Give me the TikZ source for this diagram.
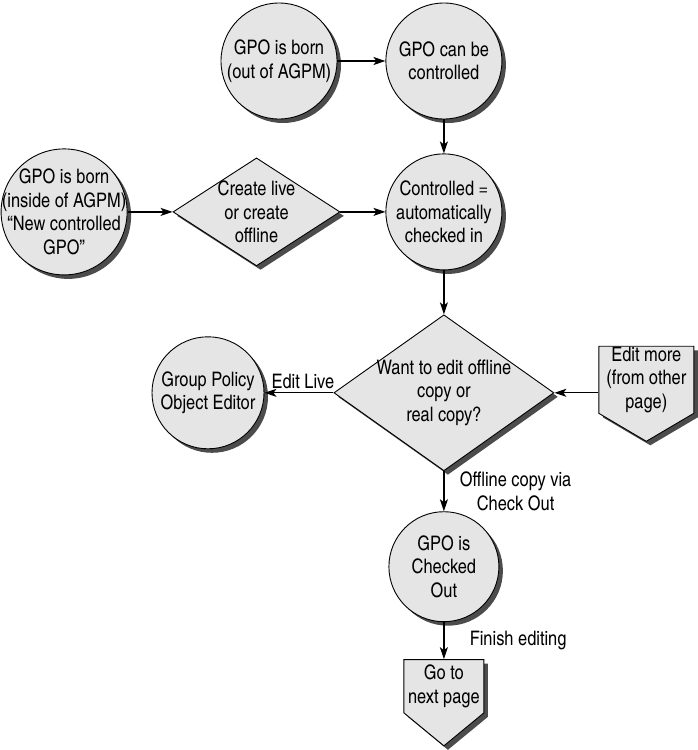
\documentclass[tikz,border=0pt]{standalone}
\usepackage{fontspec}
\setmainfont{texgyreheroscn}[Extension=.otf,UprightFont=*-regular,BoldFont=*-bold]
\usetikzlibrary{arrows.meta,positioning,shapes.geometric,shapes.symbols,shadows}

\begin{document}
\begin{tikzpicture}[x=1pt,y=-1pt,>={Stealth[length=12pt,width=8pt,inset=3pt]},
 font=\fontsize{20}{23.5}\selectfont,
 shade/.style={draw,fill=black!10,line width=0.9pt,
  drop shadow={shadow xshift=4pt,shadow yshift=-4pt,fill=black!70,opacity=1}},
 blob/.style={shade,circle,minimum size=#1},
 pick/.style 2 args={shade,diamond,minimum width=#1,minimum height=#2},
 page/.style n args={3}{shade,signal,signal to=south,signal pointer angle=#3,
  minimum width=#1,minimum height=#2},
 every label/.style={align=center,inner sep=0pt},
 link/.style={->,line width=1.2pt}]
\useasboundingbox (0,0) rectangle (697,750);
\node[blob=116pt,label={center:GPO is born\\(out of AGPM)}] (bornout) at (279,61) {};
\node[blob=116pt,right=48pt of bornout,label={center:GPO can be\\controlled}] (canctrl) {};
\node[blob=116pt,below=34pt of canctrl,label={center:Controlled =\\automatically\\checked in}] (checkin) {};
\node[pick={167pt}{108pt},left=45pt of checkin,label={center:Create live\\or create\\offline}] (create) {};
\node[blob=126pt,left=45pt of create,label={center:GPO is born\\(inside of AGPM)\\“New controlled\\GPO”}] (bornin) {};
\node[pick={220pt}{156pt},below=44pt of checkin,label={center:Want to edit offline\\copy or\\real copy?}] (want) {};
\node[blob=112pt,left=69pt of want,label={center:Group Policy\\Object Editor}] (gpoe) {};
\node[page={95pt}{69pt}{119},right=44pt of want,yshift=13pt,label={center:Edit more\\(from other\\page)}] (editmore) {};
\node[blob=110pt,below=40pt of want,label={center:GPO is\\Checked\\Out}] (out) {};
\node[page={80pt}{56pt}{101},below=37pt of out,label={center:Go to\\next page}] (next) {};
\draw[link] (bornout) -- (canctrl);
\draw[link] (canctrl) -- (checkin);
\draw[link] (bornin) -- (create);
\draw[link] (create) -- (checkin);
\draw[link] (checkin) -- (want);
\draw[link] (want) -- node[above,xshift=4pt] {Edit Live} (gpoe);
\draw[link] (editmore.west |- want) -- (want);
\draw[link] (want) -- node[right=12pt,align=center] {Offline copy via\\Check Out} (out);
\draw[link] (out) -- node[right=22pt] {Finish editing} (next);
\end{tikzpicture}
\end{document}
